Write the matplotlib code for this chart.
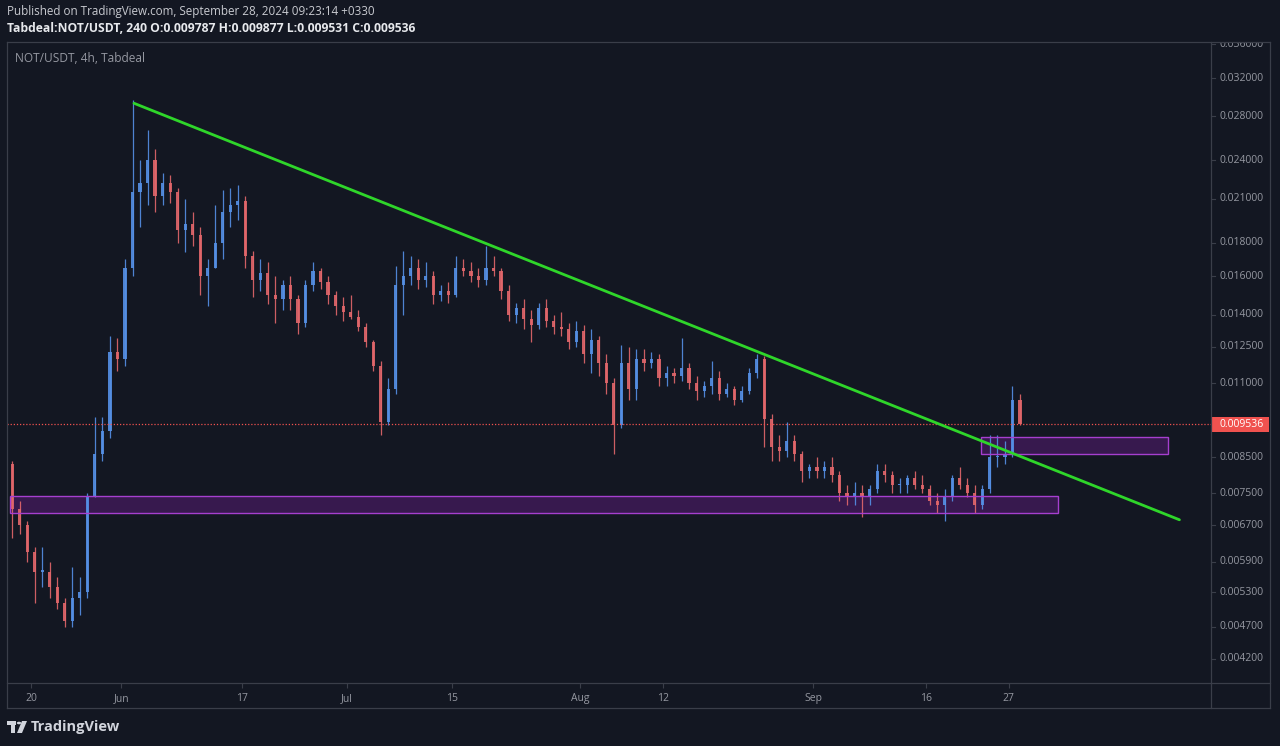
import numpy as np
import pandas as pd
import matplotlib
matplotlib.use("Agg")
import matplotlib.pyplot as plt
import matplotlib.dates as mdates
from matplotlib.patches import Rectangle, Polygon, Circle
from matplotlib.lines import Line2D

# ---------------------------------------------------------------
# Data : NOT/USDT, bougies journalières
# ---------------------------------------------------------------
first_day = "2024-05-17"
opens = [0.0083, 0.0071, 0.0067, 0.0061, 0.0057, 0.0057, 0.0054, 0.0051, 0.0048, 0.0052,
         0.0053, 0.0074, 0.0086, 0.0093, 0.0123, 0.0120, 0.0165, 0.0215, 0.0222, 0.0240,
         0.0212, 0.0222, 0.0215, 0.0188, 0.0192, 0.0185, 0.0160, 0.0165, 0.0180, 0.0200,
         0.0205, 0.0208, 0.0172, 0.0158, 0.0162, 0.0150, 0.0148, 0.0155, 0.0148, 0.0136,
         0.0155, 0.0163, 0.0157, 0.0150, 0.0144, 0.0141, 0.0139, 0.0134, 0.0127, 0.0117,
         0.0096, 0.0108, 0.0155, 0.0160, 0.0165, 0.0158, 0.0160, 0.0150, 0.0152, 0.0150,
         0.0165, 0.0163, 0.0160, 0.0158, 0.0165, 0.0163, 0.0152, 0.0140, 0.0143, 0.0138,
         0.0135, 0.0143, 0.0137, 0.0134, 0.0133, 0.0127, 0.0132, 0.0122, 0.0128, 0.0118,
         0.0110, 0.0095, 0.0118, 0.0108, 0.0120, 0.0118, 0.0120, 0.0112, 0.0114, 0.0113,
         0.0116, 0.0110, 0.0107, 0.0109, 0.0112, 0.0106, 0.0108, 0.0104, 0.0107, 0.0114,
         0.0120, 0.0097, 0.0088, 0.0087, 0.0090, 0.0086, 0.0081, 0.0082, 0.0081, 0.0082,
         0.0080, 0.0075, 0.0074, 0.0075, 0.0074, 0.0076, 0.0081, 0.0080, 0.0077, 0.0077,
         0.0079, 0.0077, 0.0076, 0.0073, 0.0072, 0.0074, 0.0079, 0.0077, 0.0075, 0.0072,
         0.0076, 0.0085, 0.0085, 0.0086, 0.0104]
highs = [0.0084, 0.0073, 0.0068, 0.0062, 0.0062, 0.0059, 0.0056, 0.0052, 0.0058, 0.0056,
         0.0075, 0.0098, 0.0098, 0.0130, 0.0129, 0.0170, 0.0296, 0.0240, 0.0267, 0.0250,
         0.0230, 0.0228, 0.0218, 0.0210, 0.0200, 0.0190, 0.0170, 0.0205, 0.0216, 0.0218,
         0.0220, 0.0212, 0.0175, 0.0170, 0.0168, 0.0160, 0.0158, 0.0160, 0.0150, 0.0158,
         0.0168, 0.0165, 0.0160, 0.0152, 0.0149, 0.0150, 0.0142, 0.0136, 0.0128, 0.0119,
         0.0112, 0.0166, 0.0175, 0.0172, 0.0170, 0.0168, 0.0163, 0.0155, 0.0157, 0.0172,
         0.0170, 0.0168, 0.0165, 0.0178, 0.0172, 0.0165, 0.0155, 0.0146, 0.0148, 0.0142,
         0.0146, 0.0148, 0.0140, 0.0141, 0.0136, 0.0137, 0.0135, 0.0133, 0.0130, 0.0122,
         0.0112, 0.0126, 0.0125, 0.0124, 0.0124, 0.0123, 0.0122, 0.0117, 0.0116, 0.0129,
         0.0118, 0.0113, 0.0111, 0.0119, 0.0115, 0.0110, 0.0109, 0.0109, 0.0116, 0.0122,
         0.0121, 0.0099, 0.0092, 0.0096, 0.0092, 0.0087, 0.0083, 0.0085, 0.0084, 0.0085,
         0.0081, 0.0077, 0.0078, 0.0077, 0.0077, 0.0083, 0.0083, 0.0081, 0.0079, 0.0080,
         0.0081, 0.0080, 0.0077, 0.0075, 0.0076, 0.0080, 0.0082, 0.0079, 0.0077, 0.0077,
         0.0092, 0.0092, 0.0090, 0.0109, 0.0106]
lows = [0.0064, 0.0065, 0.0059, 0.0051, 0.0054, 0.0052, 0.0050, 0.0047, 0.0047, 0.0049,
        0.0052, 0.0074, 0.0084, 0.0091, 0.0115, 0.0117, 0.0160, 0.0190, 0.0205, 0.0200,
        0.0205, 0.0207, 0.0180, 0.0174, 0.0178, 0.0150, 0.0144, 0.0165, 0.0170, 0.0190,
        0.0195, 0.0165, 0.0149, 0.0152, 0.0145, 0.0136, 0.0142, 0.0142, 0.0131, 0.0134,
        0.0152, 0.0153, 0.0145, 0.0140, 0.0137, 0.0138, 0.0132, 0.0125, 0.0115, 0.0092,
        0.0095, 0.0106, 0.0140, 0.0155, 0.0153, 0.0154, 0.0145, 0.0147, 0.0146, 0.0149,
        0.0160, 0.0157, 0.0154, 0.0155, 0.0160, 0.0148, 0.0137, 0.0136, 0.0133, 0.0127,
        0.0133, 0.0134, 0.0131, 0.0130, 0.0124, 0.0125, 0.0118, 0.0114, 0.0113, 0.0106,
        0.0086, 0.0094, 0.0104, 0.0104, 0.0115, 0.0116, 0.0109, 0.0109, 0.0110, 0.0111,
        0.0108, 0.0104, 0.0105, 0.0106, 0.0104, 0.0105, 0.0102, 0.0103, 0.0106, 0.0112,
        0.0088, 0.0084, 0.0084, 0.0085, 0.0084, 0.0078, 0.0079, 0.0079, 0.0079, 0.0078,
        0.0073, 0.0072, 0.0072, 0.0069, 0.0072, 0.0075, 0.0078, 0.0075, 0.0075, 0.0075,
        0.0076, 0.0075, 0.0072, 0.0070, 0.0068, 0.0073, 0.0076, 0.0074, 0.0070, 0.0071,
        0.0075, 0.0082, 0.0083, 0.0085, 0.0095]
closes = [0.0071, 0.0067, 0.0061, 0.0057, 0.0057, 0.0054, 0.0051, 0.0048, 0.0052, 0.0053,
          0.0074, 0.0086, 0.0093, 0.0123, 0.0120, 0.0165, 0.0215, 0.0222, 0.0240, 0.0212,
          0.0222, 0.0215, 0.0188, 0.0192, 0.0185, 0.0160, 0.0165, 0.0180, 0.0200, 0.0205,
          0.0208, 0.0172, 0.0158, 0.0162, 0.0150, 0.0148, 0.0155, 0.0148, 0.0136, 0.0155,
          0.0163, 0.0157, 0.0150, 0.0144, 0.0141, 0.0139, 0.0134, 0.0127, 0.0117, 0.0096,
          0.0108, 0.0155, 0.0160, 0.0165, 0.0158, 0.0160, 0.0150, 0.0152, 0.0150, 0.0165,
          0.0163, 0.0160, 0.0158, 0.0165, 0.0163, 0.0152, 0.0140, 0.0143, 0.0138, 0.0135,
          0.0143, 0.0137, 0.0134, 0.0133, 0.0127, 0.0132, 0.0122, 0.0128, 0.0118, 0.0110,
          0.0095, 0.0118, 0.0108, 0.0120, 0.0118, 0.0120, 0.0112, 0.0114, 0.0113, 0.0116,
          0.0110, 0.0107, 0.0109, 0.0112, 0.0106, 0.0108, 0.0104, 0.0107, 0.0114, 0.0120,
          0.0097, 0.0088, 0.0087, 0.0090, 0.0086, 0.0081, 0.0082, 0.0081, 0.0082, 0.0080,
          0.0075, 0.0074, 0.0075, 0.0074, 0.0076, 0.0081, 0.0080, 0.0077, 0.0077, 0.0079,
          0.0077, 0.0076, 0.0073, 0.0072, 0.0074, 0.0079, 0.0077, 0.0075, 0.0072, 0.0076,
          0.0085, 0.0085, 0.0086, 0.0104, 0.009536]

last_price = 0.009536

# trendline (deux points) et zones de support
trend_dates = ["2024-06-02 16:48", "2024-10-19 16:48"]
trend_prices = [0.0293, 0.00683]
zones = [("2024-05-17 05:00", "2024-10-03 14:00", 0.00699, 0.00742),
         ("2024-09-23 07:00", "2024-10-18 05:00", 0.00859, 0.00912)]

price_ticks = [0.036, 0.032, 0.028, 0.024, 0.021, 0.018, 0.016, 0.014, 0.0125,
               0.011, 0.0085, 0.0075, 0.0067, 0.0059, 0.0053, 0.0047, 0.0042]
date_ticks = ["2024-05-20", "2024-06-01", "2024-06-17", "2024-07-01", "2024-07-15",
              "2024-08-01", "2024-08-12", "2024-09-01", "2024-09-16", "2024-09-27"]
date_labels = ["20", "Jun", "17", "Jul", "15", "Aug", "12", "Sep", "16", "27"]

# ---------------------------------------------------------------
# Style
# ---------------------------------------------------------------
BG = "#131722"
BORDER = "#3a3e49"
TXT = "#9598a1"
UP = "#5590e6"
DOWN = "#e3676b"
RED = "#f0524f"
plt.rcParams["font.family"] = ["Open Sans", "DejaVu Sans"]

W, H = 1280, 746
fig = plt.figure(figsize=(W / 100, H / 100), dpi=100, facecolor=BG)


def fx(px):
    return px / W


def fy(py):
    return 1 - py / H


ymin, ymax = 0.00386, 0.0363
xmin = mdates.date2num(pd.Timestamp("2024-05-16 19:30"))
xmax = mdates.date2num(pd.Timestamp("2024-10-23 21:30"))

ax = fig.add_axes([fx(7), fy(683), fx(1211) - fx(7), fy(42) - fy(683)])
ax.set_facecolor(BG)
ax.set_yscale("log")
ax.set_ylim(ymin, ymax)
ax.set_xlim(xmin, xmax)

# ---------------------------------------------------------------
# Bougies
# ---------------------------------------------------------------
days = pd.date_range(first_day, periods=len(closes), freq="D") + pd.Timedelta(hours=12)
xd = mdates.date2num(days)
o = np.array(opens)
h = np.array(highs)
l = np.array(lows)
c = np.array(closes)
cols = np.where(c >= o, UP, DOWN)

ax.vlines(xd, l, h, colors=cols, linewidth=0.9, alpha=0.9, zorder=3)
bot = np.minimum(o, c)
top = np.maximum(o, c)
top = np.maximum(top, bot * 1.004)
ax.bar(xd, top - bot, bottom=bot, width=0.42, color=cols, alpha=0.9, linewidth=0, zorder=3)

# zones violettes
for d0, d1, p0, p1 in zones:
    x0 = mdates.date2num(pd.Timestamp(d0))
    x1 = mdates.date2num(pd.Timestamp(d1))
    ax.add_patch(Rectangle((x0, p0), x1 - x0, p1 - p0, facecolor="#7b1fa2", alpha=0.35,
                           edgecolor="none", zorder=2))
    ax.add_patch(Rectangle((x0, p0), x1 - x0, p1 - p0, facecolor="none",
                           edgecolor="#a63fcf", linewidth=1.0, zorder=4))

# trendline
ax.plot(mdates.date2num(pd.to_datetime(trend_dates)), trend_prices, color="#2fd62a",
        linewidth=2.0, zorder=5, solid_capstyle="round")

# dernier prix
ax.axhline(last_price, color=RED, linewidth=0.9, linestyle=(0, (1, 1.5)), zorder=4)

ax.text(8 / (1211 - 7), 1 - 16 / (683 - 42), "NOT/USDT, 4h, Tabdeal", transform=ax.transAxes,
        color=TXT, fontsize=8.6, va="center", ha="left")

# axe du temps
ax.set_xticks(mdates.date2num(pd.to_datetime(date_ticks)))
ax.set_xticklabels(date_labels)
ax.tick_params(axis="x", length=3.5, width=0.8, color=BORDER, labelcolor=TXT,
               labelsize=7.5, pad=4)
ax.set_yticks([])
ax.yaxis.set_minor_locator(matplotlib.ticker.NullLocator())
for s in ax.spines.values():
    s.set_visible(False)

# ---------------------------------------------------------------
# Echelle de prix (à droite)
# ---------------------------------------------------------------
axp = fig.add_axes([fx(1211), fy(683), fx(1270) - fx(1211), fy(42) - fy(683)])
axp.set_facecolor(BG)
axp.set_yscale("log")
axp.set_ylim(ymin, ymax)
axp.set_xlim(0, 1)
axp.set_xticks([])
axp.set_yticks([])
axp.yaxis.set_minor_locator(matplotlib.ticker.NullLocator())
for s in axp.spines.values():
    s.set_visible(False)
for p in price_ticks:
    axp.plot([0, 0.07], [p, p], color=BORDER, linewidth=0.8, clip_on=True)
    axp.text(0.15, p, f"{p:.6f}", color=TXT, fontsize=7.5, va="center", ha="left",
             clip_on=True)
axp.add_patch(Rectangle((0.02, last_price / 1.027), 0.96, last_price * (1.027 - 1 / 1.027),
                        facecolor=RED, edgecolor="none", zorder=3))
axp.text(0.15, last_price, f"{last_price:.6f}", color="white", fontsize=7.5,
         va="center", ha="left", zorder=4)

# cadre
frame = [((7, 42), (1270, 42)), ((7, 708), (1270, 708)), ((7, 42), (7, 708)),
         ((1270, 42), (1270, 708)), ((1211, 42), (1211, 708)), ((7, 683), (1270, 683))]
for (x0, y0), (x1, y1) in frame:
    fig.add_artist(Line2D([fx(x0), fx(x1)], [fy(y0), fy(y1)], color=BORDER, linewidth=0.9))

# ---------------------------------------------------------------
# En-tête et logo
# ---------------------------------------------------------------
fig.text(fx(7), fy(12), "Published on TradingView.com, September 28, 2024 09:23:14 +0330",
         color="#c8cad0", fontsize=8.4, va="center", ha="left")
fig.text(fx(7), fy(28), "Tabdeal:NOT/USDT, 240 O:0.009787 H:0.009877 L:0.009531 C:0.009536",
         color="#e6e8ec", fontsize=8.7, fontweight="bold", va="center", ha="left")

fig.add_artist(Rectangle((fx(7), fy(725)), fx(9), 4 / H, facecolor="#d1d4dc",
                         transform=fig.transFigure))
fig.add_artist(Rectangle((fx(11), fy(733)), fx(4), 12 / H, facecolor="#d1d4dc",
                         transform=fig.transFigure))
fig.add_artist(Circle((fx(19), fy(723)), 2.2 / W, facecolor="#d1d4dc",
                      transform=fig.transFigure))
fig.add_artist(Polygon([(fx(22), fy(721)), (fx(27), fy(721)), (fx(22), fy(733)),
                        (fx(17), fy(733))], facecolor="#d1d4dc", transform=fig.transFigure))
fig.text(fx(31), fy(727), "TradingView", color="#d1d4dc", fontsize=10.5,
         fontweight="bold", va="center", ha="left")

fig.savefig("out.png", dpi=100, facecolor=BG)
